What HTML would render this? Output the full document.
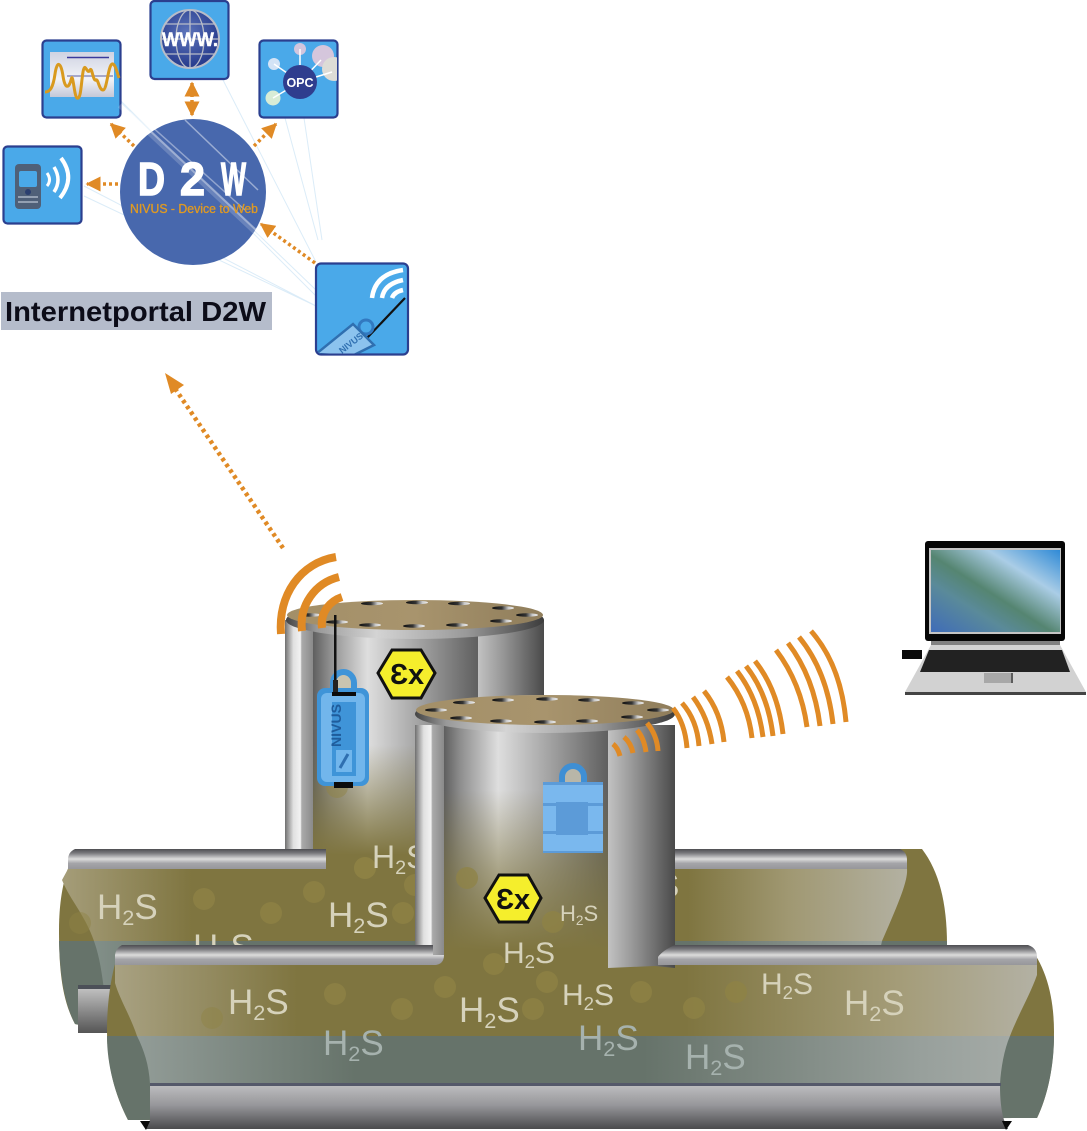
<!DOCTYPE html>
<html><head><meta charset="utf-8"><style>
html,body{margin:0;padding:0;background:#fff}
svg{display:block}
text{font-family:"Liberation Sans",sans-serif}
.h{fill:#d6d2bb}
.t{fill:#a6b2ae}
.s{font-size:.62em}
</style></head><body>
<svg width="1087" height="1131" viewBox="0 0 1087 1131" xmlns="http://www.w3.org/2000/svg">
<defs>
<linearGradient id="bar" x1="0" y1="0" x2="0" y2="1"><stop offset="0" stop-color="#4e4e52"/><stop offset=".2" stop-color="#77777b"/><stop offset=".5" stop-color="#dcdcdc"/><stop offset=".72" stop-color="#a4a4a8"/><stop offset="1" stop-color="#97979b"/></linearGradient>
<linearGradient id="bot" x1="0" y1="0" x2="0" y2="1"><stop offset="0" stop-color="#bcbcbe"/><stop offset=".45" stop-color="#96969a"/><stop offset="1" stop-color="#4a4a4c"/></linearGradient>
<linearGradient id="stub" x1="0" y1="0" x2="0" y2="1"><stop offset="0" stop-color="#c4c4c4"/><stop offset="1" stop-color="#555"/></linearGradient>
<linearGradient id="backBody" gradientUnits="userSpaceOnUse" x1="65" y1="0" x2="907" y2="0"><stop offset="0" stop-color="#a49c78"/><stop offset=".15" stop-color="#7f7540"/><stop offset=".74" stop-color="#7f7540"/><stop offset=".86" stop-color="#a09872"/><stop offset="1" stop-color="#b3b1a2"/></linearGradient>
<linearGradient id="backTeal" gradientUnits="userSpaceOnUse" x1="65" y1="0" x2="907" y2="0"><stop offset="0" stop-color="#8b9892"/><stop offset=".15" stop-color="#66736a"/><stop offset=".74" stop-color="#66736a"/><stop offset="1" stop-color="#a0a8a4"/></linearGradient>
<linearGradient id="frontBody" gradientUnits="userSpaceOnUse" x1="112" y1="0" x2="1037" y2="0"><stop offset="0" stop-color="#a9a283"/><stop offset=".2" stop-color="#7f7540"/><stop offset=".62" stop-color="#7f7540"/><stop offset=".85" stop-color="#a49c78"/><stop offset="1" stop-color="#b3b1a4"/></linearGradient>
<linearGradient id="frontTeal" gradientUnits="userSpaceOnUse" x1="137" y1="0" x2="1010" y2="0"><stop offset="0" stop-color="#929c97"/><stop offset=".25" stop-color="#66736a"/><stop offset=".58" stop-color="#66736a"/><stop offset=".9" stop-color="#98a09c"/><stop offset="1" stop-color="#a4aaa6"/></linearGradient>
<linearGradient id="tankMain" x1="0" y1="0" x2="1" y2="0"><stop offset="0" stop-color="#5f5f5f"/><stop offset=".1" stop-color="#8e8e8e"/><stop offset=".33" stop-color="#dedede"/><stop offset=".6" stop-color="#ababab"/><stop offset="1" stop-color="#5f5f5f"/></linearGradient>
<linearGradient id="tankRight" x1="0" y1="0" x2="1" y2="0"><stop offset="0" stop-color="#c2c2c2"/><stop offset=".35" stop-color="#9a9a9a"/><stop offset="1" stop-color="#4a4a4a"/></linearGradient>
<linearGradient id="tankLeft" x1="0" y1="0" x2="1" y2="0"><stop offset="0" stop-color="#707070"/><stop offset=".3" stop-color="#e0e0e0"/><stop offset=".55" stop-color="#f2f2f2"/><stop offset=".6" stop-color="#aaa"/><stop offset="1" stop-color="#8a8a8a"/></linearGradient>
<linearGradient id="fadeB" gradientUnits="userSpaceOnUse" x1="0" y1="745" x2="0" y2="855"><stop offset="0" stop-color="#7f7540" stop-opacity="0"/><stop offset="1" stop-color="#7f7540"/></linearGradient>
<linearGradient id="fadeF" gradientUnits="userSpaceOnUse" x1="0" y1="790" x2="0" y2="950"><stop offset="0" stop-color="#7f7540" stop-opacity="0"/><stop offset=".5" stop-color="#7f7540" stop-opacity=".55"/><stop offset="1" stop-color="#7f7540"/></linearGradient>
<linearGradient id="rim" x1="0" y1="0" x2="1" y2="0"><stop offset="0" stop-color="#444"/><stop offset=".12" stop-color="#999"/><stop offset=".35" stop-color="#d4d4d4"/><stop offset=".7" stop-color="#999"/><stop offset="1" stop-color="#3c3c3c"/></linearGradient>
<linearGradient id="disc" x1="0" y1="0" x2="1" y2="0"><stop offset="0" stop-color="#a38f68"/><stop offset=".5" stop-color="#a8946d"/><stop offset="1" stop-color="#8f7d5b"/></linearGradient>
<linearGradient id="hole" x1="0" y1="0" x2="1" y2="0"><stop offset="0" stop-color="#111"/><stop offset=".45" stop-color="#333"/><stop offset=".75" stop-color="#ccc"/><stop offset="1" stop-color="#eee"/></linearGradient>
<linearGradient id="scr" x1="0" y1="1" x2="1" y2="0"><stop offset="0" stop-color="#3f6cb8"/><stop offset=".3" stop-color="#5a8a9a"/><stop offset=".47" stop-color="#558571"/><stop offset=".72" stop-color="#aacde6"/><stop offset="1" stop-color="#2f8ad6"/></linearGradient>
<radialGradient id="globe" cx=".45" cy=".4" r=".6"><stop offset="0" stop-color="#5d75bb"/><stop offset="1" stop-color="#263a8c"/></radialGradient>
<linearGradient id="win" x1="0" y1="0" x2="0" y2="1"><stop offset="0" stop-color="#cfd3e2"/><stop offset=".6" stop-color="#f2f3f7"/><stop offset="1" stop-color="#c4c8d8"/></linearGradient>
<marker id="ah" viewBox="0 0 10 10" refX="9" refY="5" markerWidth="15" markerHeight="15" markerUnits="userSpaceOnUse" orient="auto-start-reverse"><path d="M0,0L10,5L0,10Z" fill="#e08a25"/></marker>
<clipPath id="clipB"><rect x="0" y="0" width="1087" height="945"/></clipPath>
<clipPath id="opcC"><rect x="260" y="41" width="77" height="76" rx="4"/></clipPath>
<clipPath id="devC"><rect x="317" y="264.500" width="90" height="89" rx="4"/></clipPath>
</defs>

<!-- rays behind -->
<g stroke="#cfe6f6" stroke-width="1" fill="none" opacity=".75">
<path d="M316,306L84,186M316,306L84,196M316,296L120,100M316,290L110,92M316,262L223,80M318,240L285,118M322,240L304,118"/>
</g>

<!-- back pipe -->
<path d="M78,849L922,849C938,870 947,900 947,945L947,960L110,1032L75,1024C62,1000 59,970 59,930C59,900 64,868 78,849Z" fill="#7f7540"/>
<path d="M59,941L947,941L947,960L110,1032L75,1024C64,1003 60,975 59,941Z" fill="#66736a"/>
<path d="M68,869L907,869C908,880 900,900 882,941L94,941C85,915 70,900 62,880Z" fill="url(#backBody)"/>
<path d="M94,941L882,941L880,950L104,990C102,975 100,958 94,941Z" fill="url(#backTeal)"/>
<rect x="78" y="987" width="40" height="46" fill="url(#stub)"/>
<rect x="78" y="985" width="40" height="4" fill="#4c5058"/>

<!-- back pipe labels & bubbles -->
<g fill="#8f8345" opacity=".75">
<circle cx="80" cy="923" r="11" opacity=".6"/><circle cx="204" cy="899" r="11"/><circle cx="271" cy="913" r="11"/><circle cx="314" cy="892" r="11"/><circle cx="403" cy="913" r="11"/><circle cx="365" cy="868" r="11"/><circle cx="415" cy="885" r="11"/>
</g>
<g clip-path="url(#clipB)" font-size="35">
<text x="97" y="919" class="h">H<tspan class="s" dy="6">2</tspan><tspan dy="-6">S</tspan></text>
<text x="328" y="927" class="h">H<tspan class="s" dy="6">2</tspan><tspan dy="-6">S</tspan></text>
<text x="193" y="959" class="h">H<tspan class="s" dy="6">2</tspan><tspan dy="-6">S</tspan></text>
<text x="622" y="897" class="h" font-size="33">H<tspan class="s" dy="6">2</tspan><tspan dy="-6">S</tspan></text>
</g>

<!-- back tank -->
<rect x="313" y="620" width="165" height="235" fill="url(#tankMain)"/>
<rect x="313" y="620" width="165" height="235" fill="url(#fadeB)"/>
<rect x="478" y="620" width="66" height="120" fill="url(#tankRight)"/>
<rect x="285" y="620" width="28" height="230" fill="url(#tankLeft)"/>
<circle cx="337" cy="787" r="11" fill="#8f8345" opacity=".5"/>
<circle cx="365" cy="868" r="11" fill="#8f8345" opacity=".65"/>
<text x="372" y="868" font-size="32" class="h">H<tspan class="s" dy="6">2</tspan><tspan dy="-6">S</tspan></text>
<ellipse cx="415" cy="620" rx="129" ry="19" fill="url(#rim)"/>
<ellipse cx="415" cy="615" rx="128" ry="15" fill="url(#disc)"/>
<g fill="url(#hole)">
<ellipse cx="372" cy="603.500" rx="11" ry="1.800"/><ellipse cx="417" cy="602.500" rx="11" ry="1.800"/><ellipse cx="459" cy="603.500" rx="11" ry="1.800"/><ellipse cx="503" cy="608" rx="11" ry="1.800"/><ellipse cx="527" cy="615" rx="11" ry="1.800"/><ellipse cx="501" cy="621" rx="11" ry="1.800"/><ellipse cx="457" cy="625" rx="11" ry="1.800"/><ellipse cx="414" cy="626" rx="11" ry="1.800"/><ellipse cx="370" cy="625" rx="11" ry="1.800"/><ellipse cx="337" cy="622" rx="11" ry="1.800"/><ellipse cx="310" cy="615" rx="11" ry="1.800"/>
</g>
<!-- back bars -->
<path d="M75,849L326,849L326,869L68,869L68,860Q68,852 75,849Z" fill="url(#bar)"/>
<path d="M675,849L900,849Q907,852 907,860L907,869L675,869Z" fill="url(#bar)"/>

<!-- wifi on back tank -->
<g fill="none" stroke="#e08a25" stroke-width="8">
<path d="M281,634C278,595 300,563 336,557"/>
<path d="M302,631C299,605 315,583 339,577"/>
<path d="M322,628C320,612 330,601 342,597"/>
</g>

<!-- Ex back -->
<path d="M378,673L392,650L421,650L435,673L421,698L392,698Z" fill="#f5ee2c" stroke="#111" stroke-width="3"/>
<text x="407" y="684" text-anchor="middle" font-size="29" font-weight="bold" fill="#111">Ɛx</text>

<!-- device 1 -->
<path d="M333,692V683A10.500,11 0 0 1 354,683V692Z" fill="#c9c4b0" stroke="#3f94d8" stroke-width="6"/>
<rect x="317" y="688" width="52" height="98" rx="8" fill="#3f94d8"/>
<rect x="321" y="693" width="44" height="89" rx="6" fill="#72b6ec"/>
<rect x="332" y="702" width="24" height="74" fill="#3f94d8"/>
<rect x="336" y="750" width="16" height="22" fill="#72b6ec"/>
<path d="M340,768L348,754" stroke="#2f6fb0" stroke-width="3"/>
<text x="0" y="0" transform="translate(341,747) rotate(-90)" font-size="14" font-weight="bold" fill="#1f5c9c" textLength="43" lengthAdjust="spacingAndGlyphs">NIVUS</text>
<rect x="332" y="692" width="24" height="4" fill="#0b0b0b"/>
<rect x="334" y="782" width="19" height="6" fill="#0b0b0b"/>
<rect x="334" y="615" width="2.500" height="65" fill="#111"/>
<rect x="333" y="680" width="5" height="12" fill="#222"/>

<!-- front pipe -->
<path d="M122,945L1028,945C1045,965 1054,995 1054,1032C1054,1065 1048,1095 1037,1118L128,1120C115,1095 107,1065 107,1030C107,1000 112,965 122,945Z" fill="#7f7540"/>
<path d="M107,1036L1054,1036C1054,1065 1048,1095 1037,1118L128,1120C115,1095 107,1065 107,1036Z" fill="#66736a"/>
<path d="M115,965L1037,965L1037,975C1030,995 1018,1015 1010,1036L137,1036C130,1015 120,1000 115,983Z" fill="url(#frontBody)"/>
<path d="M137,1036L1010,1036C1004,1050 1001,1068 1000,1084L150,1084C149,1065 144,1050 137,1036Z" fill="url(#frontTeal)"/>
<rect x="150" y="1083" width="851" height="3" fill="#55596a"/>
<path d="M150,1086L1000,1086C1000,1098 1001,1110 1004,1120L1008,1129L145,1129L150,1120Z" fill="url(#bot)"/>
<path d="M140,1121L150,1121L146,1130Z" fill="#0a0a0a"/>
<path d="M1002,1121L1012,1121L1006,1130Z" fill="#0a0a0a"/>

<!-- front olive junction -->
<rect x="435" y="930" width="223" height="45" fill="#7f7540"/>

<!-- front tank -->
<rect x="444" y="725" width="164" height="240" fill="url(#tankMain)"/>
<rect x="444" y="725" width="164" height="240" fill="url(#fadeF)"/>
<path d="M608,725H675V968L655,966L608,968Z" fill="url(#tankRight)"/>
<path d="M415,725H444V955Q444,965 434,965H415Z" fill="url(#tankLeft)"/>

<!-- front bars -->
<path d="M122,945L415,945L433,945L433,955L444,955Q444,965 432,965L115,965L115,955Q116,948 122,945Z" fill="url(#bar)"/>
<path d="M675,945L1028,945Q1037,948 1037,957L1037,965L658,965L658,957Q663,950 675,945Z" fill="url(#bar)"/>

<!-- front bubbles and labels -->
<g fill="#8f8345" opacity=".75">
<circle cx="467" cy="878" r="11"/><circle cx="553" cy="922" r="11"/><circle cx="494" cy="964" r="11"/><circle cx="445" cy="987" r="11"/><circle cx="402" cy="1009" r="11"/><circle cx="335" cy="994" r="11"/><circle cx="212" cy="1018" r="11" opacity=".6"/><circle cx="533" cy="1009" r="11"/><circle cx="547" cy="982" r="11"/><circle cx="641" cy="992" r="11"/><circle cx="694" cy="1008" r="11"/><circle cx="736" cy="992" r="11"/>
</g>
<g font-size="35">
<text x="228" y="1014" class="h">H<tspan class="s" dy="6">2</tspan><tspan dy="-6">S</tspan></text>
<text x="459" y="1022" class="h">H<tspan class="s" dy="6">2</tspan><tspan dy="-6">S</tspan></text>
<text x="323" y="1055" class="t">H<tspan class="s" dy="6">2</tspan><tspan dy="-6">S</tspan></text>
<text x="578" y="1050" class="t">H<tspan class="s" dy="6">2</tspan><tspan dy="-6">S</tspan></text>
<text x="685" y="1069" class="t">H<tspan class="s" dy="6">2</tspan><tspan dy="-6">S</tspan></text>
<text x="844" y="1015" class="h">H<tspan class="s" dy="6">2</tspan><tspan dy="-6">S</tspan></text>
<text x="503" y="963" font-size="30" class="h">H<tspan class="s" dy="5">2</tspan><tspan dy="-5">S</tspan></text>
<text x="562" y="1005" font-size="30" class="h">H<tspan class="s" dy="5">2</tspan><tspan dy="-5">S</tspan></text>
<text x="761" y="994" font-size="30" class="h">H<tspan class="s" dy="5">2</tspan><tspan dy="-5">S</tspan></text>
<text x="560" y="921" font-size="22" class="h">H<tspan class="s" dy="4">2</tspan><tspan dy="-4">S</tspan></text>
</g>

<!-- Ex front -->
<path d="M485,898L499,875L528,875L541,898L528,922L499,922Z" fill="#f5ee2c" stroke="#111" stroke-width="3"/>
<text x="513" y="909" text-anchor="middle" font-size="29" font-weight="bold" fill="#111">Ɛx</text>

<!-- front disc -->
<ellipse cx="545" cy="714" rx="130" ry="19" fill="url(#rim)"/>
<ellipse cx="545" cy="710" rx="129" ry="15" fill="url(#disc)"/>
<g fill="url(#hole)">
<ellipse cx="464" cy="702.500" rx="11" ry="1.800"/><ellipse cx="503" cy="700" rx="11" ry="1.800"/><ellipse cx="547" cy="699" rx="11" ry="1.800"/><ellipse cx="589" cy="700" rx="11" ry="1.800"/><ellipse cx="633" cy="703" rx="11" ry="1.800"/><ellipse cx="658" cy="710" rx="11" ry="1.800"/><ellipse cx="632" cy="717" rx="11" ry="1.800"/><ellipse cx="587" cy="721" rx="11" ry="1.800"/><ellipse cx="545" cy="722" rx="11" ry="1.800"/><ellipse cx="501" cy="721" rx="11" ry="1.800"/><ellipse cx="461" cy="718" rx="11" ry="1.800"/><ellipse cx="436" cy="710" rx="11" ry="1.800"/>
</g>

<!-- device 2 -->
<path d="M562,785V777A11,11 0 0 1 584,777V785" fill="#b8b6a8" stroke="#3f8fd4" stroke-width="6"/>
<rect x="543" y="782" width="60" height="71" rx="3" fill="#7ab8ee"/>
<rect x="543" y="782" width="60" height="3" fill="#5c9bd8"/>
<rect x="543" y="851" width="60" height="2" fill="#5c9bd8"/>
<rect x="543" y="803" width="60" height="3" fill="#5c9bd8"/>
<rect x="543" y="831" width="60" height="3" fill="#5c9bd8"/>
<rect x="556" y="802" width="32" height="33" fill="#5c9bd8"/>

<!-- wifi right -->
<g fill="none" stroke="#e08a25" stroke-width="5">
<path d="M613,744Q618,748 620,756"/><path d="M624,737Q631,743 633,753"/><path d="M637,730Q644,738 646,752"/><path d="M647,723Q657,735 658,751"/>
<path d="M673,708Q685,723 687,748"/><path d="M682,703Q697,720 699,746"/><path d="M693,697Q708,717 712,744"/><path d="M704,691Q721,712 724,742"/>
<path d="M727,677Q748,703 752,738"/><path d="M737,671Q758,698 763,737"/><path d="M746,666Q768,694 773,736"/><path d="M755,661Q778,690 783,734"/>
<path d="M776,650Q801,683 807,727"/><path d="M788,643Q814,677 820,726"/><path d="M799,637Q827,671 833,724"/><path d="M811,631Q841,665 846,722"/>
</g>

<!-- laptop -->
<rect x="902" y="650" width="20" height="9" fill="#0a0a0a"/>
<path d="M931,645L1060,645L1086,692L905,692Z" fill="#d2d2d2"/>
<rect x="905" y="692" width="181" height="3" fill="#444"/>
<rect x="931" y="641" width="129" height="4" fill="#808080"/>
<rect x="925" y="541" width="140" height="100" rx="3" fill="#060606"/>
<rect x="929" y="548" width="132" height="86" fill="#c4c4c4"/>
<rect x="931" y="550" width="129" height="82" fill="url(#scr)"/>
<path d="M929,650L1062,650L1070,672L920,672Z" fill="#222"/>
<rect x="984" y="673" width="29" height="10" fill="#a8a8a8"/>
<path d="M1012,673V683" stroke="#111" stroke-width="1"/>

<!-- big arrow -->
<path d="M283,548L174,387" stroke="#e08a25" stroke-width="4.500" stroke-dasharray="3.500 3.500" fill="none"/>
<path d="M165,373L184,385L171,394Z" fill="#e08a25"/>

<!-- icons -->
<g stroke="#2b3f8f" stroke-width="2.200" fill="#4aa9e9">
<rect x="42.500" y="40.500" width="78" height="77" rx="4"/>
<rect x="150.500" y="1" width="78" height="78" rx="4"/>
<rect x="259.500" y="40.500" width="78" height="77" rx="4"/>
<rect x="3.500" y="146.500" width="78" height="77" rx="4"/>
<rect x="316" y="263.500" width="92" height="91" rx="5"/>
</g>

<!-- chart -->
<rect x="50" y="52" width="64" height="45" fill="url(#win)"/>
<path d="M67,57.500H109M67,76H113" stroke="#3a3a9c" stroke-width="1.500"/>
<path d="M67,76H113" stroke="#b9bccb" stroke-width="1"/>
<path d="M45,92C50,92 53,88 55,74C57,60 61,62 63,76C65,90 69,88 71,80C73,70 74,96 77,98C81,100 81,84 83,72C85,60 87,76 90,70C92,66 93,82 96,80C98,78 99,90 103,90C107,90 108,66 112,64C115,63 117,72 119,78" fill="none" stroke="#d99a1e" stroke-width="3"/>

<!-- www -->
<circle cx="190" cy="39" r="29" fill="url(#globe)" stroke="#b8bcc8" stroke-width="2"/>
<g fill="none" stroke="#b8bcc8" stroke-width="1.300"><ellipse cx="190" cy="39" rx="14" ry="29"/><path d="M190,10V68M161,39H219M166,24H214M166,54H214"/></g>
<text x="190" y="46" text-anchor="middle" font-size="19" font-weight="bold" fill="#fff" stroke="#fff" stroke-width=".4" textLength="56" lengthAdjust="spacingAndGlyphs">WWW.</text>

<!-- opc -->
<g clip-path="url(#opcC)">
<circle cx="323" cy="56" r="11" fill="#d5c6dc"/><circle cx="334" cy="69" r="12" fill="#dddcd6"/>
<circle cx="300" cy="49" r="6" fill="#d2c6de"/><circle cx="274" cy="64" r="6" fill="#d3e3f6"/><circle cx="273" cy="98" r="7.500" fill="#d8ecd6"/>
<path d="M274,64L300,82M300,49V82M321,60L300,82M332,72L300,82M273,98L300,82" stroke="#fff" stroke-width="1.500"/>
<circle cx="300" cy="82" r="17" fill="#2f3d8e"/>
<text x="300" y="87" text-anchor="middle" font-size="12.500" font-weight="bold" fill="#fff">OPC</text>
</g>

<!-- phone -->
<rect x="15" y="164" width="26" height="45" rx="4" fill="#4f6078"/>
<rect x="19" y="171" width="18" height="16" rx="2" fill="#4aa9e9"/>
<circle cx="28" cy="192" r="3" fill="#2b3f6f"/>
<path d="M18,197H38M18,202H38" stroke="#aab5c5" stroke-width="1.500"/>
<g fill="none" stroke="#fff"><path d="M47,173Q52,180 47,186" stroke-width="3"/><path d="M54,167Q62,180 54,192" stroke-width="3.500"/><path d="M61,158Q76,178 60,198" stroke-width="4"/></g>

<!-- device icon -->
<g fill="none" stroke="#fff" stroke-width="4.500"><path d="M372,298Q375,274 403,270"/><path d="M382,298Q384,284 403,280"/><path d="M392,298Q394,292 403,290"/></g>
<path d="M405,298L367,338" stroke="#111" stroke-width="2.200" fill="none"/>
<path d="M358,329L367,338" stroke="#111" stroke-width="2.200" fill="none"/>
<g clip-path="url(#devC)">
<circle cx="366" cy="327" r="7" fill="none" stroke="#3279c0" stroke-width="3"/>
<path d="M316,354L353,324L374,345L352,356Z" fill="#8cc3ee" stroke="#2f6fb0" stroke-width="2.500"/>
<text transform="translate(342,354) rotate(-38)" font-size="9" font-weight="bold" fill="#2f6fb0">NIVUS</text>
</g>

<!-- main circle -->
<circle cx="193" cy="192" r="73" fill="#4868ad"/>
<g fill="none" stroke="#fff">
<path d="M120,105L262,238" stroke-width="6" opacity=".18"/>
<path d="M130,112L258,232" stroke-width="2" opacity=".35"/>
<path d="M185,120L258,190" stroke-width="1.500" opacity=".45"/>
<path d="M150,125L245,210" stroke-width="1.500" opacity=".4"/>
</g>
<g font-size="46" font-weight="bold" fill="#fff" stroke="#fff" stroke-width="1.500" style="font-family:'DejaVu Sans Mono',monospace">
<text x="138" y="195" textLength="27" lengthAdjust="spacingAndGlyphs">D</text>
<text x="180" y="195" textLength="25" lengthAdjust="spacingAndGlyphs">2</text>
<text x="221" y="195" textLength="25" lengthAdjust="spacingAndGlyphs">W</text>
</g>
<text x="130" y="213" font-size="12.500" fill="#e09a22" stroke="#e09a22" stroke-width=".3" textLength="128" lengthAdjust="spacingAndGlyphs">NIVUS - Device to Web</text>

<!-- small arrows -->
<g stroke="#e08a25" stroke-width="3.500" stroke-dasharray="3 3" fill="none">
<path d="M134,146L111,124" marker-end="url(#ah)"/>
<path d="M192,115L192,83" marker-start="url(#ah)" marker-end="url(#ah)"/>
<path d="M254,146L276,124" marker-end="url(#ah)"/>
<path d="M118,184L87,184" marker-end="url(#ah)"/>
<path d="M315,263L261,224" marker-end="url(#ah)"/>
</g>

<!-- banner -->
<rect x="1" y="292" width="271" height="38" fill="#b5bccb"/>
<text x="5" y="321" font-size="28" font-weight="bold" fill="#0c0c18" textLength="261" lengthAdjust="spacingAndGlyphs">Internetportal D2W</text>
</svg>
</body></html>
